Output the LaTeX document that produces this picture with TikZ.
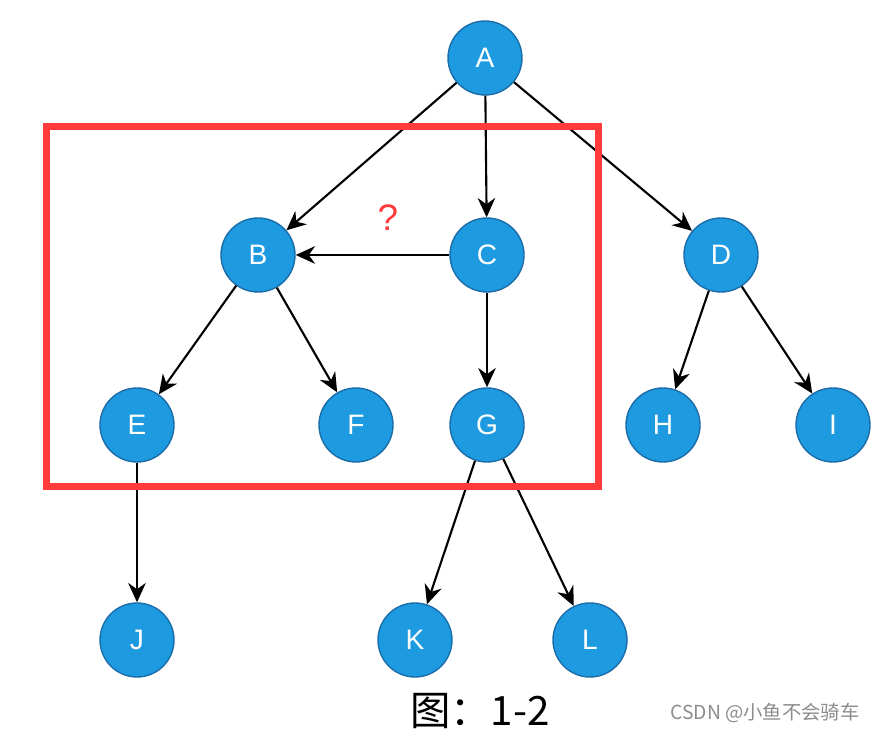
\documentclass[tikz,border=0pt]{standalone}
\usepackage{fontspec}
\setmainfont{Liberation Sans}
\newfontfamily\cjk{Noto Sans CJK SC}
\definecolor{nodeblue}{HTML}{1E9BE0}
\definecolor{nodeedge}{HTML}{1A6DA8}
\definecolor{boxred}{HTML}{FF3B3B}
\usetikzlibrary{arrows.meta}

\begin{document}
\begin{tikzpicture}[x=0.02cm, y=-0.02cm,
    vert/.style={circle, fill=nodeblue, draw=nodeedge, line width=0.8pt,
      minimum size=1.48cm, inner sep=0pt, text=white, font=\fontsize{16}{16}\selectfont},
    edge/.style={line width=1.2pt, -{Stealth[length=11pt, width=10pt]}}]

    \useasboundingbox (0, 0) rectangle (876, 732);

    \node[vert] (a) at (485, 58) {A};

    \node[vert] (b) at (258, 255) {B};
    \node[vert] (c) at (487, 255) {C};
    \node[vert] (d) at (721, 255) {D};

    \node[vert] (e) at (137, 425) {E};
    \node[vert] (f) at (356, 425) {F};
    \node[vert] (g) at (487, 425) {G};
    \node[vert] (h) at (663, 425) {H};
    \node[vert] (i) at (833, 425) {I};

    \node[vert] (j) at (137, 640) {J};
    \node[vert] (k) at (415, 640) {K};
    \node[vert] (l) at (590, 640) {L};

    \draw[edge] (a) -- (b);
    \draw[edge] (a) -- (c);
    \draw[edge] (a) -- (d);
    \draw[edge] (c) -- (b);
    \draw[edge] (b) -- (e);
    \draw[edge] (b) -- (f);
    \draw[edge] (c) -- (g);
    \draw[edge] (d) -- (h);
    \draw[edge] (d) -- (i);
    \draw[edge] (e) -- (j);
    \draw[edge] (g) -- (k);
    \draw[edge] (g) -- (l);

    \draw[draw=boxred, line width=0.14cm] (46.5, 126.5) rectangle (598, 487);

    \node[text=boxred, font=\fontsize{21}{21}\selectfont] (q) at (388, 218) {?};

    \node[font=\cjk\fontsize{23}{23}\selectfont] (cap) at (480, 711) {图：1-2};
    \node[text=black!45, font=\cjk\fontsize{11}{11}\selectfont] (mark) at (765, 713) {CSDN @小鱼不会骑车};

\end{tikzpicture}
\end{document}
